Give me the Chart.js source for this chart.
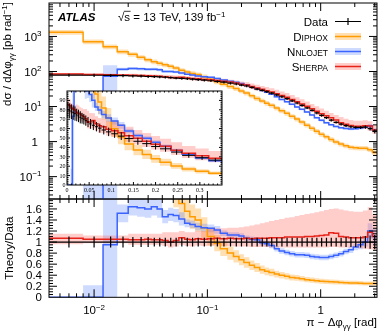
<!DOCTYPE html>
<html>
<head>
<meta charset="utf-8">
<title>pi - dphi gamma gamma</title>
<script src="https://cdn.jsdelivr.net/npm/chart.js@4.4.1/dist/chart.umd.min.js"></script>
<style>
  html, body { margin: 0; padding: 0; background: #ffffff; }
  #wrap { position: relative; width: 390px; height: 331px; overflow: hidden; }
  #wrap canvas { position: absolute; }
  #ratio { left: 0; top: 196px; }
  #main { left: 0; top: 0; }
  #inset { left: 55px; top: 86px; }
</style>
</head>
<body>
<div id="wrap">
  <canvas id="ratio" width="390" height="135"></canvas>
  <canvas id="main" width="390" height="200"></canvas>
  <canvas id="inset" width="172" height="110"></canvas>
</div>
<script>
const FONT = '"Liberation Sans", Arial, sans-serif';
const SERIF = '"Liberation Serif", "Times New Roman", serif';

// bin edges in pi - dphi [rad]
const binEdges = [0, 0.004, 0.008, 0.012, 0.016, 0.020, 0.024, 0.028, 0.032, 0.036, 0.040,
  0.045, 0.050, 0.056, 0.063, 0.070, 0.078, 0.088, 0.100,
  0.115, 0.13, 0.15, 0.17, 0.19, 0.21, 0.235, 0.26, 0.29, 0.32, 0.35,
  0.39, 0.43, 0.48, 0.53, 0.59, 0.65, 0.72, 0.80, 0.88, 0.97,
  1.07, 1.18, 1.30, 1.44, 1.59, 1.76, 1.94, 2.14, 2.36, 2.60, 2.86, 3.1416];

// measured cross section [pb/rad] and relative uncertainty
const dataXsec = [80, 79, 78, 77, 76, 74.5, 73.5, 72, 71, 70,
  68.5, 67, 65, 63.5, 62, 60.5, 58.5, 56.5, 54.5, 52,
  49.5, 46.5, 44, 41, 38.5, 35, 31.5, 29, 26.5, 24,
  21.5, 19, 16.8, 14.6, 12.6, 10.8, 9.2, 7.8, 6.6, 5.6,
  4.8, 4.1, 3.55, 3.15, 2.85, 2.65, 2.55, 2.55, 2.6, 2.35,
  1.95];
const dataRelErr = [0.1, 0.1, 0.1, 0.1, 0.1, 0.09, 0.09, 0.09, 0.08, 0.08,
  0.08, 0.08, 0.08, 0.08, 0.08, 0.08, 0.08, 0.08, 0.08, 0.08,
  0.08, 0.08, 0.08, 0.08, 0.08, 0.08, 0.08, 0.08, 0.08, 0.08,
  0.08, 0.08, 0.08, 0.08, 0.08, 0.08, 0.08, 0.08, 0.08, 0.08,
  0.08, 0.08, 0.08, 0.08, 0.09, 0.09, 0.09, 0.1, 0.11, 0.12,
  0.13];

// theory / data
const diphoxRatio = [16.7, 16.7, 9.1, 6.6, 4.84, 4.16, 3.46, 2.99, 2.68, 2.44,
  2.26, 2.1, 1.92, 1.7, 1.56, 1.46, 1.4, 1.26, 1.1, 0.98,
  0.88, 0.8, 0.74, 0.68, 0.63, 0.58, 0.54, 0.5, 0.47, 0.45,
  0.42, 0.4, 0.38, 0.36, 0.35, 0.335, 0.32, 0.31, 0.3, 0.29,
  0.285, 0.28, 0.275, 0.27, 0.265, 0.26, 0.26, 0.255, 0.25, 0.25,
  0.25];
const diphoxUnc = [2.5, 2.5, 1.37, 1.0, 0.73, 0.62, 0.52, 0.45, 0.4, 0.37,
  0.34, 0.32, 0.29, 0.26, 0.23, 0.22, 0.21, 0.19, 0.165, 0.147,
  0.132, 0.12, 0.11, 0.1, 0.095, 0.087, 0.08, 0.075, 0.07, 0.068,
  0.063, 0.06, 0.057, 0.054, 0.052, 0.05, 0.048, 0.047, 0.045, 0.044,
  0.043, 0.042, 0.041, 0.04, 0.04, 0.039, 0.039, 0.038, 0.037, 0.037,
  0.037];
const nnlojetRatio = [0, 0, 0, 0.95, 1.52, 1.64, 1.62, 1.6, 1.64, 1.6,
  1.46, 1.5, 1.48, 1.42, 1.34, 1.32, 1.28, 1.26, 1.25, 1.22,
  1.16, 1.13, 1.13, 1.11, 1.07, 1.05, 1.04, 0.99, 0.97, 0.94,
  0.88, 0.84, 0.81, 0.79, 0.77, 0.77, 0.76, 0.74, 0.73, 0.72,
  0.72, 0.74, 0.76, 0.79, 0.83, 0.86, 0.91, 0.95, 1.0, 1.2,
  1.1];
const nnlojetUnc = [0, 0, 0.22, 1.0, 0.16, 0.16, 0.16, 0.16, 0.16, 0.16,
  0.12, 0.12, 0.12, 0.12, 0.07, 0.07, 0.07, 0.07, 0.07, 0.07,
  0.05, 0.05, 0.05, 0.05, 0.05, 0.05, 0.05, 0.05, 0.05, 0.05,
  0.05, 0.05, 0.05, 0.05, 0.05, 0.05, 0.05, 0.05, 0.05, 0.05,
  0.05, 0.05, 0.05, 0.05, 0.05, 0.06, 0.06, 0.08, 0.08, 0.14,
  0.14];
const sherpaRatio = [1.07, 1.07, 1.05, 1.05, 1.05, 1.04, 1.04, 1.05, 1.04, 1.04,
  1.03, 1.0, 1.03, 1.08, 1.05, 1.04, 1.06, 1.05, 1.06, 1.07,
  1.06, 1.07, 1.06, 1.06, 1.07, 1.06, 1.07, 1.07, 1.07, 1.08,
  1.08, 1.08, 1.09, 1.09, 1.09, 1.09, 1.1, 1.1, 1.11, 1.12,
  1.13, 1.17, 1.16, 1.1, 1.09, 1.08, 1.08, 1.08, 1.09, 1.18,
  1.1];
const sherpaUp = [1.15, 1.15, 1.12, 1.12, 1.12, 1.15, 1.15, 1.15, 1.15, 1.15,
  1.18, 1.18, 1.18, 1.2, 1.18, 1.18, 1.2, 1.2, 1.24, 1.25,
  1.25, 1.26, 1.26, 1.27, 1.28, 1.3, 1.32, 1.34, 1.36, 1.38,
  1.4, 1.42, 1.44, 1.45, 1.47, 1.49, 1.51, 1.52, 1.54, 1.56,
  1.58, 1.6, 1.61, 1.59, 1.57, 1.56, 1.55, 1.55, 1.57, 1.63,
  1.5];
const sherpaDown = [0.96, 0.96, 0.98, 0.98, 0.98, 0.95, 0.95, 0.95, 0.95, 0.95,
  0.93, 0.9, 0.92, 0.95, 0.93, 0.92, 0.94, 0.93, 0.94, 0.94,
  0.93, 0.93, 0.92, 0.92, 0.92, 0.91, 0.91, 0.91, 0.91, 0.9,
  0.9, 0.9, 0.9, 0.9, 0.9, 0.9, 0.9, 0.9, 0.9, 0.9,
  0.9, 0.91, 0.91, 0.9, 0.9, 0.9, 0.9, 0.89, 0.88, 0.87,
  0.86];

// axis ranges and tick labels
const xMin = 0.004, xMax = Math.PI;
const mainYMin = 0.023, mainYMax = 9000;
const ratioYMax = 1.78;
const insetXMax = 0.35, insetYMax = 100;
const mainYLabels = [[1000, '3'], [100, '2'], [10, '1'], [1, ''], [0.1, '\u22121']];
const xLabels = [[0.01, '\u22122'], [0.1, '\u22121'], [1, '']];
const ratioYLabels = ['0', '0.2', '0.4', '0.6', '0.8', '1', '1.2', '1.4', '1.6'];
const insetXLabels = ['0', '0.05', '0.1', '0.15', '0.2', '0.25', '0.3'];
const insetYLabels = ['0', '10', '20', '30', '40', '50', '60', '70', '80', '90'];

const COL = {
  data: '#000000',
  diphox: { line: '#ff9c00', band: 'rgba(255,165,40,0.35)' },
  nnlojet: { line: '#3b63ff', band: 'rgba(60,110,255,0.25)' },
  sherpa: { line: '#e8231a', band: 'rgba(255,90,80,0.3)' },
};

// ---------- helpers ----------
function steps(vals, from, to) {
  const pts = [];
  for (let i = from; i < to; i++) {
    pts.push({ x: binEdges[i], y: vals[i] });
    pts.push({ x: binEdges[i + 1], y: vals[i] });
  }
  return pts;
}

function theorySets(central, lo, hi, col, from, to) {
  return [
    { data: steps(lo, from, to), borderWidth: 0, borderColor: 'transparent', fill: false, order: 10 },
    { data: steps(hi, from, to), borderWidth: 0, borderColor: 'transparent', fill: '-1', backgroundColor: col.band, order: 10 },
    { data: steps(central, from, to), borderColor: col.line, borderWidth: 1.5, fill: false, order: 2 },
  ];
}

function dataCrosses(asRatio, from, to) {
  const pts = [];
  for (let i = from; i < to; i++) {
    const y = asRatio ? 1 : dataXsec[i];
    const e = asRatio ? dataRelErr[i] : dataXsec[i] * dataRelErr[i];
    pts.push({ x0: binEdges[i], x1: binEdges[i + 1], xc: (binEdges[i] + binEdges[i + 1]) / 2, y, lo: y - e, hi: y + e });
  }
  return pts;
}

function logTicks(lo, hi, majorLen, minorLen) {
  const t = [];
  for (let e = Math.floor(Math.log10(lo)); e <= Math.ceil(Math.log10(hi)); e++) {
    for (let k = 1; k <= 9; k++) {
      const v = k * Math.pow(10, e);
      if (v >= lo * 0.999 && v <= hi * 1.001) t.push([v, k === 1 ? majorLen : minorLen]);
    }
  }
  return t;
}

function linTicks(lo, hi, step, sub, majorLen, minorLen) {
  const t = [];
  for (let i = 0; ; i++) {
    const v = lo + i * step / sub;
    if (v > hi + 1e-9) break;
    t.push([v, i % sub === 0 ? majorLen : minorLen]);
  }
  return t;
}

function fontOf(p) {
  return [p.f, p.s + 'px', p.fam || FONT].filter(Boolean).join(' ');
}

function drawRich(ctx, parts, x, y, align) {
  let w = 0;
  parts.forEach(p => { ctx.font = fontOf(p); w += ctx.measureText(p.t).width; });
  let cx = align === 'right' ? x - w : align === 'center' ? x - w / 2 : x;
  ctx.textAlign = 'left';
  ctx.textBaseline = 'alphabetic';
  parts.forEach(p => {
    ctx.font = fontOf(p);
    ctx.fillText(p.t, cx, y + (p.dy || 0));
    cx += ctx.measureText(p.t).width;
  });
  return w;
}

const pow10 = e => e ? [{ t: '10', s: 11.5 }, { t: e, s: 8, dy: -4.5 }] : [{ t: '1', s: 11.5 }];
const smallCaps = w => [{ t: w[0], s: 11.5 }, { t: w.slice(1), s: 8.5 }];

// frame with inward ticks on all four sides
function framePlugin(xTicks, yTicks) {
  return {
    id: 'frame',
    afterDraw(chart) {
      const { ctx, chartArea: a, scales: { x, y } } = chart;
      ctx.save();
      ctx.strokeStyle = '#000';
      ctx.lineWidth = 1;
      ctx.strokeRect(a.left, a.top, a.right - a.left, a.bottom - a.top);
      ctx.beginPath();
      xTicks.forEach(([v, len]) => {
        const px = x.getPixelForValue(v);
        if (px < a.left + 0.5 || px > a.right - 0.5) return;
        ctx.moveTo(px, a.bottom); ctx.lineTo(px, a.bottom - len);
        ctx.moveTo(px, a.top); ctx.lineTo(px, a.top + len);
      });
      yTicks.forEach(([v, len]) => {
        const py = y.getPixelForValue(v);
        if (py < a.top + 0.5 || py > a.bottom - 0.5) return;
        ctx.moveTo(a.left, py); ctx.lineTo(a.left + len, py);
        ctx.moveTo(a.right, py); ctx.lineTo(a.right - len, py);
      });
      ctx.stroke();
      ctx.restore();
    }
  };
}

// data points: horizontal bar over the bin + vertical error
function errorBarPlugin(points, lw) {
  return {
    id: 'errbars',
    afterDatasetsDraw(chart) {
      const { ctx, chartArea: a, scales: { x, y } } = chart;
      ctx.save();
      ctx.beginPath();
      ctx.rect(a.left, a.top, a.right - a.left, a.bottom - a.top);
      ctx.clip();
      ctx.strokeStyle = COL.data;
      ctx.lineWidth = lw;
      ctx.beginPath();
      points.forEach(p => {
        const py = y.getPixelForValue(p.y);
        const pc = x.getPixelForValue(p.xc);
        ctx.moveTo(x.getPixelForValue(p.x0), py);
        ctx.lineTo(x.getPixelForValue(p.x1), py);
        ctx.moveTo(pc, y.getPixelForValue(Math.max(p.lo, 1e-4)));
        ctx.lineTo(pc, y.getPixelForValue(p.hi));
      });
      ctx.stroke();
      ctx.restore();
    }
  };
}

const hiddenScale = (type, min, max, size, horizontal) => ({
  type, min, max,
  ticks: { display: false },
  grid: { display: false },
  border: { display: false },
  afterFit: s => { if (horizontal) s.height = size; else s.width = size; },
});

const baseOptions = (padding, scales, plugins) => ({
  responsive: false,
  animation: false,
  events: [],
  layout: { padding },
  elements: { point: { radius: 0 }, line: { tension: 0 } },
  plugins: Object.assign({ legend: { display: false }, tooltip: { enabled: false } }, plugins || {}),
  scales,
});

const nBins = dataXsec.length;

// ---------- main panel ----------
const absVal = (arr, sign, unc) => arr.map((r, i) =>
  Math.max((r + sign * (unc ? unc[i] : 0)) * dataXsec[i], 1e-4));

const mainSets = [].concat(
  theorySets(absVal(sherpaRatio, 0), sherpaDown.map((r, i) => r * dataXsec[i]), sherpaUp.map((r, i) => r * dataXsec[i]), COL.sherpa, 1, nBins),
  theorySets(absVal(nnlojetRatio, 0), absVal(nnlojetRatio, -1, nnlojetUnc), absVal(nnlojetRatio, 1, nnlojetUnc), COL.nnlojet, 1, nBins),
  theorySets(absVal(diphoxRatio, 0), absVal(diphoxRatio, -1, diphoxUnc), absVal(diphoxRatio, 1, diphoxUnc), COL.diphox, 1, nBins)
);

const mainDecor = {
  id: 'mainDecor',
  afterDraw(chart) {
    const { ctx, scales: { y } } = chart;
    ctx.save();
    ctx.fillStyle = '#000';
    mainYLabels.forEach(([v, e]) => {
      const py = y.getPixelForValue(v) + 4.1;
      drawRich(ctx, pow10(e), e ? 41.5 : 38, py, 'right');
    });
    // y title
    ctx.save();
    ctx.translate(11, 2);
    ctx.rotate(-Math.PI / 2);
    drawRich(ctx, [
      { t: 'd\u03c3 / d\u0394\u03c6', s: 11.5 }, { t: '\u03b3\u03b3', s: 8, dy: 3 },
      { t: ' [pb rad', s: 11.5 }, { t: '\u22121', s: 8, dy: -4.5 }, { t: ']', s: 11.5 }
    ], 0, 0, 'right');
    ctx.restore();
    // labels
    ctx.font = 'italic bold 11.5px ' + FONT;
    ctx.textAlign = 'left';
    ctx.fillText('ATLAS', 58, 21);
    ctx.font = '11.5px ' + FONT;
    const wr = ctx.measureText('\u221a').width;
    const ws = ctx.measureText('s').width;
    drawRich(ctx, [{ t: '\u221a', s: 11.5 }, { t: 's = 13 TeV, 139 fb', s: 11.5 }, { t: '\u22121', s: 8, dy: -4.5 }], 118, 21, 'left');
    ctx.strokeStyle = '#000';
    ctx.lineWidth = 0.8;
    ctx.beginPath();
    ctx.moveTo(118 + wr - 0.5, 11.3);
    ctx.lineTo(118 + wr + ws + 0.5, 11.3);
    ctx.stroke();
    // legend
    const lx0 = 335, lx1 = 361, tx = 328;
    const entries = [
      { y: 21.5, label: [{ t: 'Data', s: 11.5 }] },
      { y: 36.5, label: smallCaps('DIPHOX'), col: COL.diphox },
      { y: 51.5, label: smallCaps('NNLOJET'), col: COL.nnlojet },
      { y: 66.5, label: smallCaps('SHERPA'), col: COL.sherpa },
    ];
    entries.forEach(en => {
      ctx.fillStyle = '#000';
      drawRich(ctx, en.label, tx, en.y + 4, 'right');
      if (en.col) {
        ctx.fillStyle = en.col.band;
        ctx.fillRect(lx0, en.y - 3.5, lx1 - lx0, 7);
        ctx.strokeStyle = en.col.line;
        ctx.lineWidth = 1.5;
        ctx.beginPath(); ctx.moveTo(lx0, en.y); ctx.lineTo(lx1, en.y); ctx.stroke();
      } else {
        ctx.strokeStyle = '#000';
        ctx.lineWidth = 1.2;
        ctx.beginPath();
        ctx.moveTo(lx0, en.y); ctx.lineTo(lx1, en.y);
        ctx.moveTo((lx0 + lx1) / 2, en.y - 3.5); ctx.lineTo((lx0 + lx1) / 2, en.y + 3.5);
        ctx.stroke();
      }
    });
    ctx.restore();
  }
};

new Chart(document.getElementById('main'), {
  type: 'line',
  data: { datasets: mainSets },
  options: baseOptions({ left: 0, right: 13, top: 3, bottom: 1 }, {
    x: hiddenScale('logarithmic', xMin, xMax, 0, true),
    y: hiddenScale('logarithmic', mainYMin, mainYMax, 49, false),
  }),
  plugins: [errorBarPlugin(dataCrosses(false, 1, nBins), 1.2),
    framePlugin(logTicks(xMin, xMax, 8, 4), logTicks(mainYMin, mainYMax, 8, 4)), mainDecor],
});

// ---------- ratio panel ----------
const shift = (arr, unc, sign) => arr.map((r, i) => r + sign * unc[i]);
const ratioSets = [].concat(
  theorySets(sherpaRatio, sherpaDown, sherpaUp, COL.sherpa, 1, nBins),
  theorySets(nnlojetRatio, shift(nnlojetRatio, nnlojetUnc, -1), shift(nnlojetRatio, nnlojetUnc, 1), COL.nnlojet, 1, nBins),
  theorySets(diphoxRatio, shift(diphoxRatio, diphoxUnc, -1), shift(diphoxRatio, diphoxUnc, 1), COL.diphox, 1, nBins)
);

const ratioDecor = {
  id: 'ratioDecor',
  afterDraw(chart) {
    const { ctx, chartArea: a, scales: { x, y } } = chart;
    ctx.save();
    ctx.fillStyle = '#000';
    ratioYLabels.forEach((lab, i) => {
      drawRich(ctx, [{ t: lab, s: 11.5 }], 42, y.getPixelForValue(i * 0.2) + 4.1, 'right');
    });
    xLabels.forEach(([v, e]) => {
      drawRich(ctx, pow10(e), x.getPixelForValue(v), a.bottom + 16.7, 'center');
    });
    drawRich(ctx, [{ t: '\u03c0 \u2212 \u0394\u03c6', s: 11.5 }, { t: '\u03b3\u03b3', s: 8, dy: 3 }, { t: ' [rad]', s: 11.5 }],
      a.right, a.bottom + 28.7, 'right');
    ctx.save();
    ctx.translate(13, (a.top + a.bottom) / 2);
    ctx.rotate(-Math.PI / 2);
    drawRich(ctx, [{ t: 'Theory/Data', s: 11.5 }], 0, 0, 'center');
    ctx.restore();
    ctx.restore();
  }
};

new Chart(document.getElementById('ratio'), {
  type: 'line',
  data: { datasets: ratioSets },
  options: baseOptions({ left: 0, right: 13, top: 3, bottom: 0 }, {
    x: hiddenScale('logarithmic', xMin, xMax, 33.7, true),
    y: hiddenScale('linear', 0, ratioYMax, 49, false),
  }),
  plugins: [errorBarPlugin(dataCrosses(true, 1, nBins), 1.2),
    framePlugin(logTicks(xMin, xMax, 8, 4), linTicks(0, ratioYMax, 0.2, 4, 8, 4)), ratioDecor],
});

// ---------- inset (linear scales) ----------
const insetTo = 31;
const linVal = (arr, sign, unc) => arr.map((r, i) => (r + sign * (unc ? unc[i] : 0)) * dataXsec[i]);
const insetSets = [].concat(
  theorySets(linVal(sherpaRatio, 0), sherpaDown.map((r, i) => r * dataXsec[i]), sherpaUp.map((r, i) => r * dataXsec[i]), COL.sherpa, 0, insetTo),
  theorySets(linVal(nnlojetRatio, 0), linVal(nnlojetRatio, -1, nnlojetUnc), linVal(nnlojetRatio, 1, nnlojetUnc), COL.nnlojet, 0, insetTo),
  theorySets(linVal(diphoxRatio, 0), linVal(diphoxRatio, -1, diphoxUnc), linVal(diphoxRatio, 1, diphoxUnc), COL.diphox, 0, insetTo)
);

const insetDecor = {
  id: 'insetDecor',
  beforeDraw(chart) {
    const { ctx, chartArea: a } = chart;
    ctx.save();
    ctx.fillStyle = '#fff';
    ctx.fillRect(a.left, a.top, a.right - a.left, a.bottom - a.top);
    ctx.restore();
  },
  afterDraw(chart) {
    const { ctx, chartArea: a, scales: { x, y } } = chart;
    ctx.save();
    ctx.fillStyle = '#000';
    insetYLabels.forEach((lab, i) => {
      drawRich(ctx, [{ t: lab, s: 6, fam: SERIF }], a.left - 1.5, y.getPixelForValue(i * 10) + 2, 'right');
    });
    insetXLabels.forEach((lab, i) => {
      drawRich(ctx, [{ t: lab, s: 6, fam: SERIF }], x.getPixelForValue(i * 0.05), a.bottom + 7, 'center');
    });
    ctx.restore();
  }
};

new Chart(document.getElementById('inset'), {
  type: 'line',
  data: { datasets: insetSets },
  options: baseOptions({ left: 0, right: 5, top: 5, bottom: 0 }, {
    x: hiddenScale('linear', 0, insetXMax, 11, true),
    y: hiddenScale('linear', 0, insetYMax, 12, false),
  }),
  plugins: [insetDecor, errorBarPlugin(dataCrosses(false, 0, insetTo), 1),
    framePlugin(linTicks(0, insetXMax, 0.05, 5, 3, 1.5), linTicks(0, insetYMax, 10, 5, 3, 1.5))],
});
</script>
</body>
</html>
